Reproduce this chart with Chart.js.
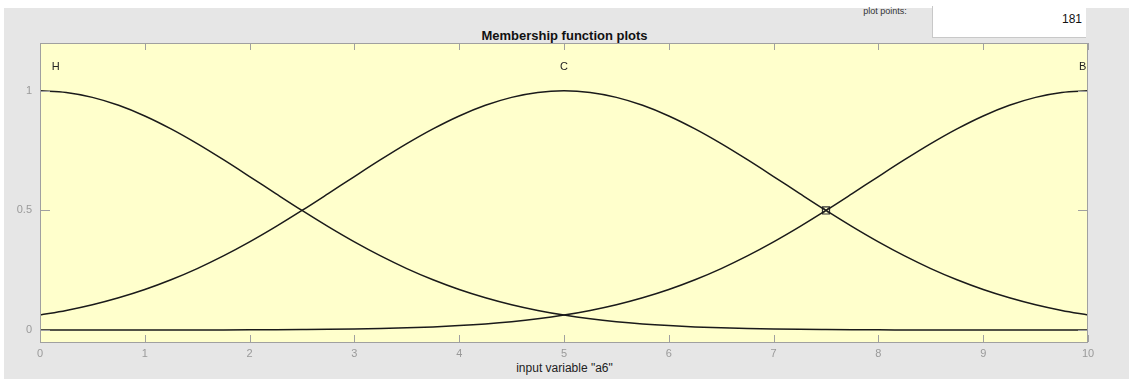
<!DOCTYPE html>
<html><head><meta charset="utf-8">
<script src="https://cdn.jsdelivr.net/npm/chart.js@4"></script>
<style>
html,body{margin:0;padding:0;background:#fff;width:1129px;height:379px;overflow:hidden;font-family:"Liberation Sans",Arial,sans-serif;}
#bg{position:absolute;left:4px;top:8px;width:1125px;height:371px;background:#e6e6e6;}
#wrap{position:absolute;left:0;top:0;width:1129px;height:379px;}
#title{position:absolute;left:0;width:1129px;top:28px;text-align:center;font-weight:bold;font-size:13px;color:#111;}
#xlab{position:absolute;left:0;width:1129px;top:361px;text-align:center;font-size:12px;color:#222;}
#ppbox{position:absolute;left:932px;top:6px;width:153px;height:31px;background:#fff;border-left:1px solid #c8c8c8;border-bottom:1px solid #c8c8c8;}
#pplab{position:absolute;left:840px;top:6px;width:90px;text-align:center;font-size:9px;color:#333;}
#ppval{position:absolute;left:932px;top:12px;width:150px;text-align:right;font-size:12px;color:#111;}
</style></head>
<body>
<div id="bg"></div>
<div id="ppbox"></div>
<div id="pplab">plot points:</div>
<div id="ppval">181</div>
<div id="title">Membership function plots</div>
<div id="xlab">input variable "a6"</div>
<div id="wrap"><canvas id="c" width="1129" height="379"></canvas></div>
<script>
// x positions of sampled points
const xs = [0,0.25,0.5,0.75,1,1.25,1.5,1.75,2,2.25,2.5,2.75,3,3.25,3.5,3.75,4,4.25,4.5,4.75,5,5.25,5.5,5.75,6,6.25,6.5,6.75,7,7.25,7.5,7.75,8,8.25,8.5,8.75,9,9.25,9.5,9.75,10];
// membership values
const muH = [1,0.9931,0.9727,0.9395,0.895,0.8409,0.7792,0.712,0.6417,0.5704,0.5,0.4322,0.3685,0.3099,0.257,0.2102,0.1695,0.1349,0.1058,0.0819,0.0625,0.047,0.0349,0.0256,0.0185,0.0131,0.0092,0.0064,0.0044,0.0029,0.002,0.0013,0.0008,0.0005,0.0003,0.0002,0.0001,0.0001,0,0,0];
const muC = [0.0625,0.0819,0.1058,0.1349,0.1695,0.2102,0.257,0.3099,0.3685,0.4322,0.5,0.5704,0.6417,0.712,0.7792,0.8409,0.895,0.9395,0.9727,0.9931,1,0.9931,0.9727,0.9395,0.895,0.8409,0.7792,0.712,0.6417,0.5704,0.5,0.4322,0.3685,0.3099,0.257,0.2102,0.1695,0.1349,0.1058,0.0819,0.0625];
const muB = [0,0,0,0.0001,0.0001,0.0002,0.0003,0.0005,0.0008,0.0013,0.002,0.0029,0.0044,0.0064,0.0092,0.0131,0.0185,0.0256,0.0349,0.047,0.0625,0.0819,0.1058,0.1349,0.1695,0.2102,0.257,0.3099,0.3685,0.4322,0.5,0.5704,0.6417,0.712,0.7792,0.8409,0.895,0.9395,0.9727,0.9931,1];
const mfNames = ['H','C','B'];
const mfLabelX = [0.15,5,9.95];
const mfLabelY = [1.1,1.1,1.1];
const markerX = [7.5];
const markerY = [0.5];
const xTicks = [0,1,2,3,4,5,6,7,8,9,10];
const xTickLabels = ['0','1','2','3','4','5','6','7','8','9','10'];
const yTicks = [0,0.5,1];
const yTickLabels = ['0','0.5','1'];

function pts(v){return xs.map((x,i)=>({x:x,y:v[i]}));}
const lineStyle = {borderColor:'#1a1a1a',borderWidth:1.5,pointRadius:0,fill:false,cubicInterpolationMode:'monotone',showLine:true};

const decor = {
  id:'decor',
  beforeDatasetsDraw(chart){
    const {ctx,chartArea:a}=chart;
    ctx.save();
    ctx.fillStyle='#ffffcc';
    ctx.fillRect(a.left,a.top,a.right-a.left,a.bottom-a.top);
    ctx.restore();
  },
  afterDatasetsDraw(chart){
    const {ctx,chartArea:a,scales}=chart;
    const sx=scales.x, sy=scales.y;
    ctx.save();
    ctx.strokeStyle='#a0a0a0';ctx.lineWidth=1;
    ctx.strokeRect(a.left+0.5,a.top+0.5,a.right-a.left-1,a.bottom-a.top);
    ctx.beginPath();
    xTicks.forEach(t=>{const p=Math.round(sx.getPixelForValue(t))+0.5;
      ctx.moveTo(p,a.bottom);ctx.lineTo(p,a.bottom-7);
      ctx.moveTo(p,a.top);ctx.lineTo(p,a.top+7);});
    yTicks.forEach(t=>{const p=Math.round(sy.getPixelForValue(t))+0.5;
      ctx.moveTo(a.left,p);ctx.lineTo(a.left+10,p);
      ctx.moveTo(a.right,p);ctx.lineTo(a.right-10,p);});
    ctx.stroke();
    ctx.fillStyle='#222';ctx.font='11px "Liberation Sans", Arial, sans-serif';
    ctx.textAlign='center';ctx.textBaseline='middle';
    mfNames.forEach((n,i)=>{ctx.fillText(n,sx.getPixelForValue(mfLabelX[i]),sy.getPixelForValue(mfLabelY[i]));});
    ctx.restore();
  }
};

new Chart(document.getElementById('c'),{
  type:'scatter',
  data:{datasets:[
    Object.assign({data:pts(muH)},lineStyle),
    Object.assign({data:pts(muC)},lineStyle),
    Object.assign({data:pts(muB)},lineStyle),
    {data:markerX.map((x,i)=>({x:x,y:markerY[i]})),pointStyle:'rect',pointRadius:5,borderColor:'#333',borderWidth:1.2,backgroundColor:'rgba(0,0,0,0)',showLine:false},
    {data:markerX.map((x,i)=>({x:x,y:markerY[i]})),pointStyle:'crossRot',pointRadius:5,borderColor:'#333',borderWidth:1,backgroundColor:'rgba(0,0,0,0)',showLine:false}
  ]},
  options:{
    responsive:false,animation:false,
    layout:{padding:{top:43,right:41,left:0,bottom:0}},
    plugins:{legend:{display:false},tooltip:{enabled:false},title:{display:false}},
    scales:{
      x:{type:'linear',min:0,max:10,
        afterBuildTicks(s){s.ticks=xTicks.map(v=>({value:v}));},
        afterFit(s){s.height=37;},
        grid:{display:false,drawTicks:false},border:{display:false},
        ticks:{color:'#9a9a9a',font:{size:11,family:'"Liberation Sans", Arial, sans-serif'},padding:5,maxRotation:0,
          callback:(v)=>xTickLabels[xTicks.indexOf(v)]}},
      y:{type:'linear',min:-0.05,max:1.2,
        afterBuildTicks(s){s.ticks=yTicks.map(v=>({value:v}));},
        afterFit(s){s.width=40;},
        grid:{display:false,drawTicks:false},border:{display:false},
        ticks:{color:'#9a9a9a',font:{size:11,family:'"Liberation Sans", Arial, sans-serif'},padding:8,
          callback:(v)=>yTickLabels[yTicks.indexOf(v)]}}
    }
  },
  plugins:[decor]
});
</script>
</body></html>
